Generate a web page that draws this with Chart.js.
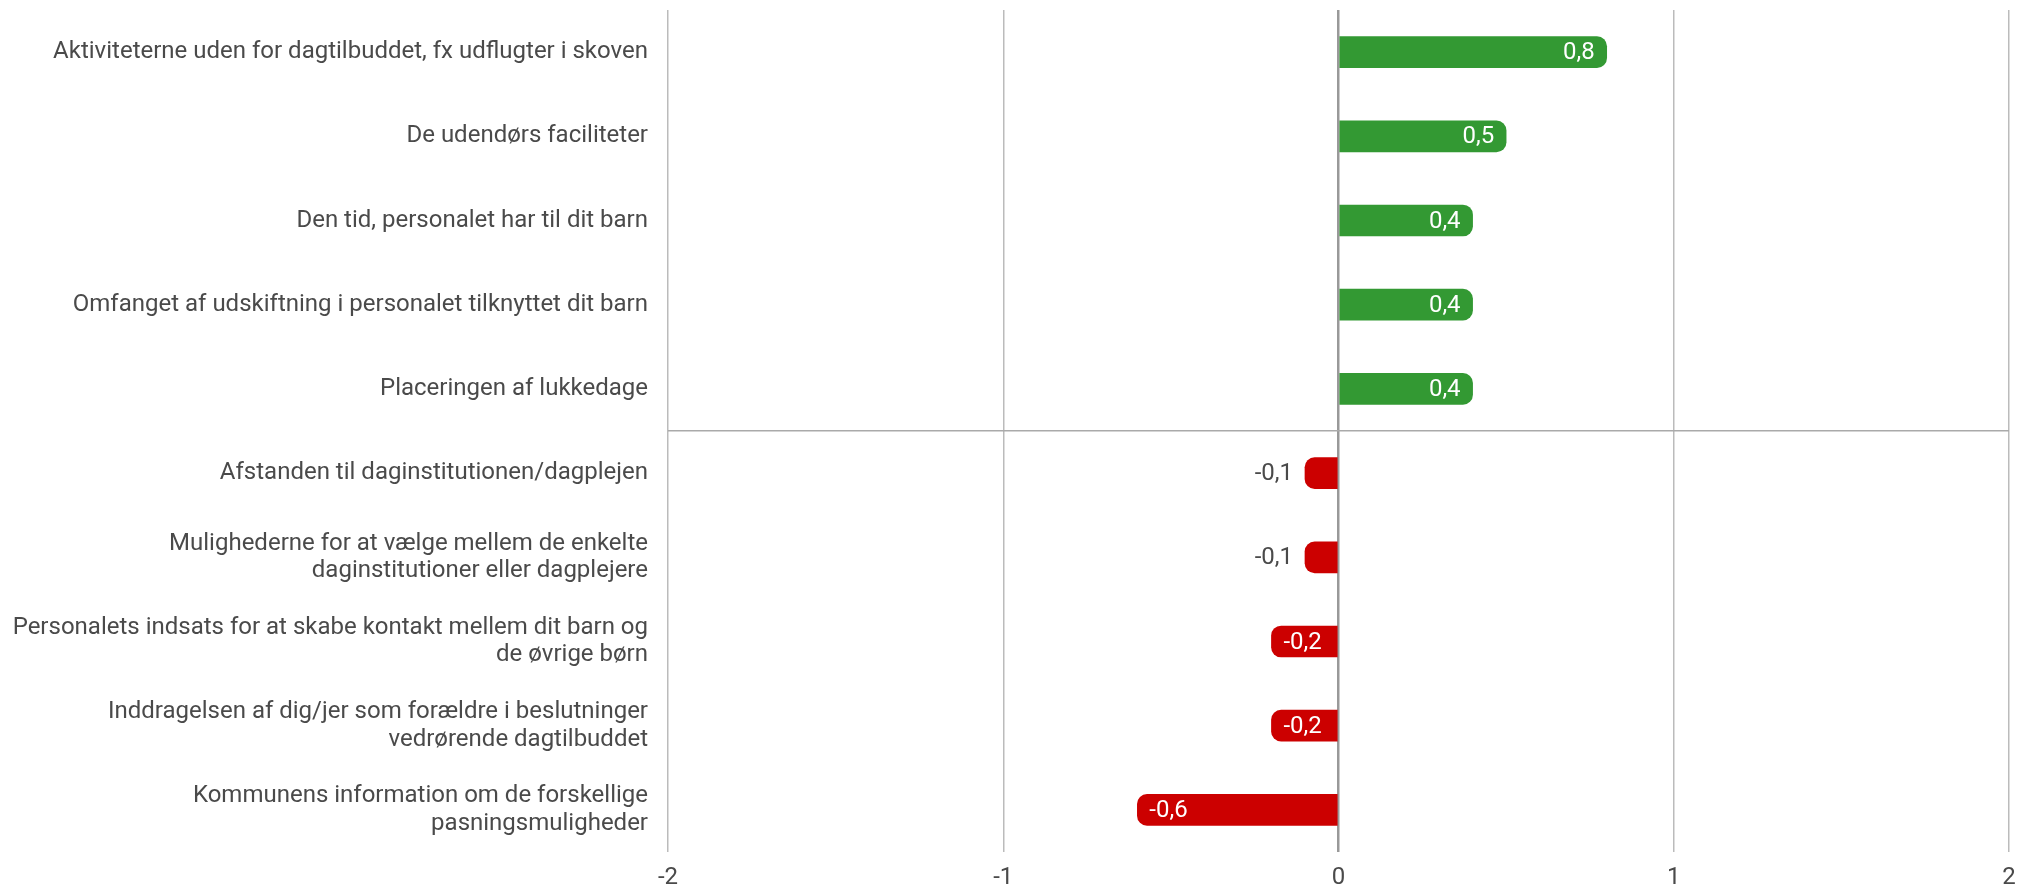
<!DOCTYPE html>
<html>
<head>
<meta charset="utf-8">
<script src="https://cdn.jsdelivr.net/npm/chart.js@4"></script>
<style>
  html, body { margin: 0; padding: 0; background: #fff; }
  #wrap { width: 2031px; height: 887px; }
</style>
</head>
<body>
<div id="wrap"><canvas id="chart"></canvas></div>
<script>
const CATEGORIES = [
  'Aktiviteterne uden for dagtilbuddet, fx udflugter i skoven',
  'De udendørs faciliteter',
  'Den tid, personalet har til dit barn',
  'Omfanget af udskiftning i personalet tilknyttet dit barn',
  'Placeringen af lukkedage',
  'Afstanden til daginstitutionen/dagplejen',
  ['Mulighederne for at vælge mellem de enkelte', 'daginstitutioner eller dagplejere'],
  ['Personalets indsats for at skabe kontakt mellem dit barn og', 'de øvrige børn'],
  ['Inddragelsen af dig/jer som forældre i beslutninger', 'vedrørende dagtilbuddet'],
  ['Kommunens information om de forskellige', 'pasningsmuligheder']
];
const VALUES = [0.8, 0.5, 0.4, 0.4, 0.4, -0.1, -0.1, -0.2, -0.2, -0.6];
const X_MIN = -2;
const X_MAX = 2;

const GREEN = '#339933';
const RED = '#cc0000';
const TEXT = '#4a4a4a';
const FONT = 'Roboto, "Noto Sans", sans-serif';

function formatDa(v) {
  return v.toLocaleString('da-DK', { maximumFractionDigits: 1 });
}

// value labels: white inside the bar end, grey outside when the bar is too short
const valueLabels = {
  id: 'valueLabels',
  afterDatasetsDraw(chart) {
    const ctx = chart.ctx;
    const meta = chart.getDatasetMeta(0);
    ctx.save();
    ctx.font = '24px ' + FONT;
    ctx.textBaseline = 'middle';
    meta.data.forEach((bar, i) => {
      const v = VALUES[i];
      const text = formatDa(v);
      const w = ctx.measureText(text).width;
      const pad = 12;
      const len = Math.abs(bar.x - bar.base);
      const inside = len >= w + pad * 2;
      const dir = v >= 0 ? 1 : -1;
      ctx.fillStyle = inside ? '#fff' : TEXT;
      if (inside) {
        ctx.textAlign = dir > 0 ? 'right' : 'left';
        ctx.fillText(text, bar.x - dir * pad, bar.y + 1);
      } else {
        ctx.textAlign = dir > 0 ? 'left' : 'right';
        ctx.fillText(text, bar.x + dir * pad, bar.y + 1);
      }
    });
    ctx.restore();
  }
};

new Chart(document.getElementById('chart'), {
  type: 'bar',
  data: {
    labels: CATEGORIES,
    datasets: [{
      data: VALUES,
      backgroundColor: VALUES.map(v => v >= 0 ? GREEN : RED),
      borderRadius: 10,
      borderSkipped: 'start',
      barThickness: 31
    }]
  },
  options: {
    indexAxis: 'y',
    responsive: true,
    maintainAspectRatio: false,
    animation: false,
    layout: { padding: { top: 10, right: 22, left: 0, bottom: 0 } },
    plugins: {
      legend: { display: false },
      tooltip: { enabled: false }
    },
    scales: {
      x: {
        min: X_MIN,
        max: X_MAX,
        afterFit: s => { s.height = 35; },
        ticks: {
          stepSize: 1,
          color: TEXT,
          font: { family: FONT, size: 24 },
          padding: 12,
          callback: v => formatDa(v)
        },
        grid: {
          drawTicks: false,
          color: c => c.tick && c.tick.value === 0 ? '#999999' : '#bbbbbb',
          lineWidth: c => c.tick && c.tick.value === 0 ? 2.5 : 1.5
        },
        border: { display: false }
      },
      y: {
        afterFit: s => { s.width = 668; s.paddingTop = 0; s.paddingBottom = 0; },
        ticks: {
          color: TEXT,
          font: { family: FONT, size: 24, lineHeight: 1.15 },
          padding: 20
        },
        grid: {
          drawTicks: false,
          color: c => c.index === 5 ? '#aaaaaa' : 'rgba(0,0,0,0)',
          lineWidth: 1.5
        },
        border: { display: false }
      }
    }
  },
  plugins: [valueLabels]
});
</script>
</body>
</html>
